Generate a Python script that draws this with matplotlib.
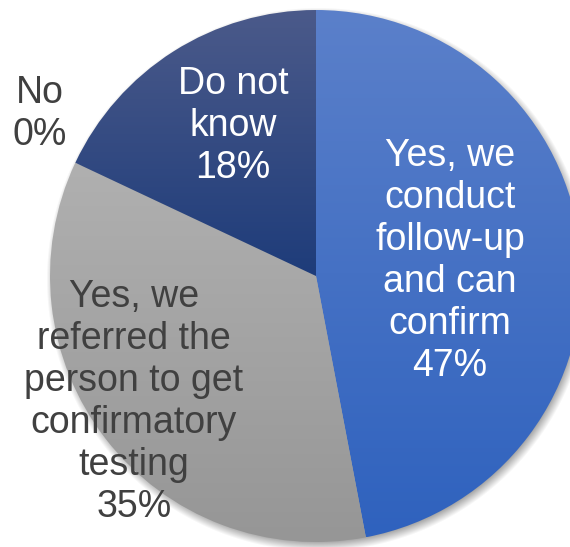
import numpy as np
import matplotlib.pyplot as plt
from matplotlib.colors import to_rgb

# survey answers, clockwise from 12 o'clock
answers = [
    "Yes, we\nconduct\nfollow-up\nand can\nconfirm",
    "Yes, we\nreferred the\nperson to get\nconfirmatory\ntesting",
    "No",
    "Do not\nknow",
]
shares = [47, 35, 0, 18]

# top / bottom gradient colours of each slice
grad_top = ["#5B80CA", "#B0B0B0", "#B0B0B0", "#4B5A8A"]
grad_bottom = ["#2F62BE", "#969696", "#969696", "#1E3C7A"]
text_colors = ["white", "#404040", "#404040", "white"]

W, H = 570, 547
cx, cy, r = 316, H - 276, 266

fig = plt.figure(figsize=(W / 100, H / 100), dpi=100)
ax = fig.add_axes([0, 0, 1, 1])

# soft drop shadow behind the pie
yy, xx = np.mgrid[0:H, 0:W]
dist = np.hypot(xx - (cx + 2), (H - yy) - (cy - 3))
shadow = np.clip((r + 6 - dist) / 10, 0, 1) * 0.35
shade = np.zeros((H, W, 4))
shade[..., 3] = shadow
ax.imshow(shade, extent=(0, W, 0, H), origin="upper", zorder=0)

wedges, _ = ax.pie(shares, startangle=90, counterclock=False,
                   center=(cx, cy), radius=r, frame=True,
                   wedgeprops={"linewidth": 0, "facecolor": "none"})

# fill each slice with a vertical gradient clipped to the wedge
for w, c_top, c_bot in zip(wedges, grad_top, grad_bottom):
    if w.theta1 == w.theta2:
        continue
    ext = w.get_path().get_extents(w.get_patch_transform())
    t = np.linspace(0, 1, 256)[:, None]
    top, bot = np.array(to_rgb(c_top)), np.array(to_rgb(c_bot))
    img = (top * (1 - t) + bot * t)[:, None, :].repeat(2, axis=1)
    im = ax.imshow(img, extent=(ext.x0, ext.x1, ext.y0, ext.y1),
                   origin="upper", aspect="auto", zorder=1)
    im.set_clip_path(w)

ax.set_xlim(0, W)
ax.set_ylim(0, H)
ax.axis("off")

# label positions in figure pixels (x, y from top)
label_pos = [(450, 261), (134, 402), (40, 114), (233, 126)]
for name, val, (lx, ly), col in zip(answers, shares, label_pos, text_colors):
    ax.text(lx, H - ly, f"{name}\n{val}%", ha="center", va="center",
            color=col, fontsize=27, family="Liberation Sans",
            linespacing=1.22, zorder=3)

fig.savefig("out.png", dpi=100)
